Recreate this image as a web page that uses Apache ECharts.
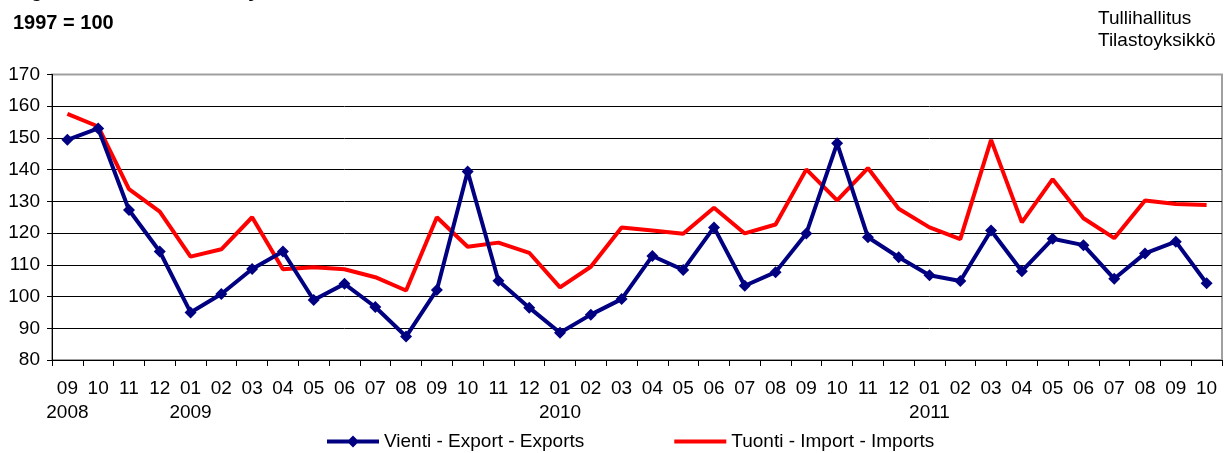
<!DOCTYPE html>
<html>
<head>
<meta charset="utf-8">
<script src="https://cdn.jsdelivr.net/npm/echarts@6/dist/echarts.min.js"></script>
<style>
  html, body { margin: 0; padding: 0; background: #fff; }
  #chart { width: 1227px; height: 453px; }
</style>
</head>
<body>
<div id="chart"></div>
<script>
// Monthly volume index, 1997 = 100, September 2008 – October 2011
const months = ['09','10','11','12',
  '01','02','03','04','05','06','07','08','09','10','11','12',
  '01','02','03','04','05','06','07','08','09','10','11','12',
  '01','02','03','04','05','06','07','08','09','10'];
const years = ['2008','','','',
  '2009','','','','','','','','','','','',
  '2010','','','','','','','','','','','',
  '2011','','','','','','','','',''];

const exportsIndex = [149.4, 153.0, 127.3, 114.2,
  95.0, 100.8, 108.7, 114.2, 98.9, 104.0, 96.7, 87.4, 102.1, 139.4, 105.0, 96.5,
  88.6, 94.3, 99.2, 112.8, 108.4, 121.8, 103.4, 107.7, 119.9, 148.3, 118.7, 112.4,
  106.7, 104.9, 120.8, 108.0, 118.2, 116.2, 105.6, 113.6, 117.3, 104.2];
const importsIndex = [157.6, 153.6, 133.9, 126.8,
  112.6, 114.9, 125.0, 108.6, 109.2, 108.6, 106.1, 101.9, 125.0, 115.7, 117.0, 113.8,
  102.9, 109.4, 121.8, 120.8, 119.8, 128.0, 119.9, 122.7, 140.1, 130.3, 140.5, 127.7,
  121.8, 118.1, 149.4, 123.4, 137.0, 124.7, 118.4, 130.3, 129.2, 128.9];

const categories = months.map((m, i) => m + '\n' + (years[i] || ' '));

const FONT = '"Liberation Sans", Arial, sans-serif';

// legend keys: a thick line, with a diamond in the middle for exports
const ICON_EXPORTS = 'path://M0,4L52,4L52,8L0,8Z M20,6L26,0L32,6L26,12Z';
const ICON_IMPORTS = 'path://M0,0L0.01,0L0,0.01Z M0,4L52,4L52,8L0,8Z M52,12L51.99,12L52,11.99Z';

const chart = echarts.init(document.getElementById('chart'), null, { renderer: 'canvas' });

chart.setOption({
  animation: false,
  backgroundColor: '#fff',
  textStyle: { fontFamily: FONT, color: '#000' },
  graphic: [
    {
      type: 'text', left: 13, top: -19,
      style: { text: 'Figure 4. Volume index by months in 2008-2011', font: 'bold 20px ' + FONT, fill: '#000' }
    },
    {
      type: 'text', left: 13, top: 13,
      style: { text: '1997 = 100', font: 'bold 20px ' + FONT, fill: '#000' }
    },
    {
      type: 'text', left: 1098, top: 8,
      style: { text: 'Tullihallitus\nTilastoyksikkö', font: '19px ' + FONT, fill: '#000', lineHeight: 22 }
    }
  ],
  grid: {
    left: 52, right: 5, top: 74.5, bottom: 93,
    show: true, borderColor: '#a0a0a0', borderWidth: 2, backgroundColor: 'transparent'
  },
  legend: {
    left: 322, top: 427,
    itemWidth: 52, itemHeight: 12, itemGap: 90,
    textStyle: { fontSize: 19, color: '#000', fontFamily: FONT },
    data: [
      { name: 'Vienti - Export - Exports', icon: ICON_EXPORTS, itemStyle: { color: '#000080' } },
      { name: 'Tuonti - Import - Imports', icon: ICON_IMPORTS, itemStyle: { color: '#ff0000' } }
    ]
  },
  xAxis: {
    type: 'category',
    data: categories,
    boundaryGap: true,
    axisLine: { show: true, lineStyle: { color: '#000', width: 1 } },
    axisTick: { show: true, length: 6, lineStyle: { color: '#000' } },
    axisLabel: {
      interval: 0, color: '#000', fontSize: 19, fontFamily: FONT,
      lineHeight: 24, margin: 17
    },
    splitLine: { show: false }
  },
  yAxis: {
    type: 'value',
    min: 80, max: 170, interval: 10,
    axisLine: { show: true, lineStyle: { color: '#000', width: 1 } },
    axisTick: { show: true, length: 5, lineStyle: { color: '#000' } },
    axisLabel: { color: '#000', fontSize: 19, fontFamily: FONT, margin: 12 },
    splitLine: { show: true, showMaxLine: false, lineStyle: { color: '#000', width: 1 } }
  },
  series: [
    {
      name: 'Vienti - Export - Exports',
      type: 'line',
      data: exportsIndex,
      color: '#000080',
      lineStyle: { color: '#000080', width: 4 },
      itemStyle: { color: '#000080' },
      symbol: 'diamond', symbolSize: 12,
      z: 3
    },
    {
      name: 'Tuonti - Import - Imports',
      type: 'line',
      data: importsIndex,
      color: '#ff0000',
      lineStyle: { color: '#ff0000', width: 4 },
      itemStyle: { color: '#ff0000' },
      symbol: 'none',
      z: 2
    }
  ]
});
</script>
</body>
</html>
